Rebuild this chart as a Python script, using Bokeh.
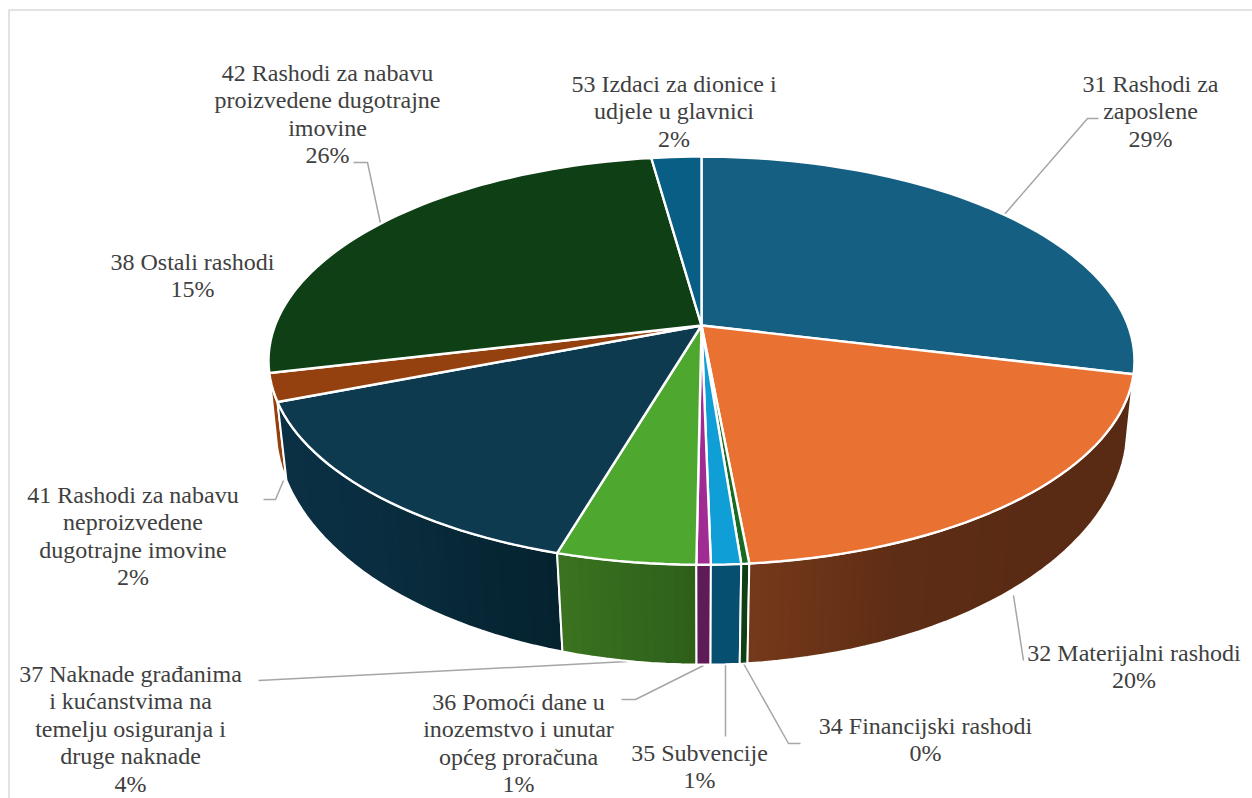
import math
from bokeh.plotting import figure
from bokeh.models import Range1d
from bokeh.core.properties import value
from bokeh.embed import file_html
from bokeh.resources import INLINE

codes = ["31", "32", "34", "35", "36", "37", "38", "41", "42", "53"]
shares = [28.8, 19.72, 0.25, 0.94, 0.45, 4.4, 14.54, 2.2, 26.5, 2.2]
top_colors = ["#156082", "#E97132", "#196B24", "#0F9ED5", "#A02B93", "#4EA72E",
              "#0D3A4F", "#95400F", "#0F3F14", "#085E84"]
side_stops = {
    "32": ["#5A2B14", "#5A2B14", "#5A2B14", "#5E2D15", "#75391A"],
    "34": ["#0F3F14", "#0F3F14"],
    "35": ["#064F70", "#064F70"],
    "36": ["#5F1A58", "#5F1A58"],
    "37": ["#2E5F1A", "#3A7320"],
    "38": ["#05222F", "#0A2E40", "#0B3044"],
    "41": ["#95400F", "#95400F"],
}
side_order = ["41", "38", "37", "36", "35", "34", "32"]

label_lines = [
    ["31 Rashodi za", "zaposlene", "29%"],
    ["32 Materijalni rashodi", "20%"],
    ["34 Financijski rashodi", "0%"],
    ["35 Subvencije", "1%"],
    ["36 Pomoći dane u", "inozemstvo i unutar", "općeg proračuna", "1%"],
    ["37 Naknade građanima", "i kućanstvima na", "temelju osiguranja i", "druge naknade", "4%"],
    ["38 Ostali rashodi", "15%"],
    ["41 Rashodi za nabavu", "neproizvedene", "dugotrajne imovine", "2%"],
    ["42 Rashodi za nabavu", "proizvedene dugotrajne", "imovine", "26%"],
    ["53 Izdaci za dionice i", "udjele u glavnici", "2%"],
]
label_x = [1150, 1133.5, 925, 699, 518, 130, 192, 132.5, 327, 673.5]
label_y = [83, 652, 725, 752, 701, 673, 261, 494, 72, 83]
line_step = 27.6

leaders_x = [[1003, 1087, 1098], [1013, 1023], [743, 788, 800], [725, 725],
             [703, 635, 621], [627, 258], [], [283, 275, 263], [380, 367, 353], []]
leaders_y = [[215, 118, 118], [595, 660], [663, 743, 743], [664, 736],
             [665, 699, 699], [661, 680], [], [480, 499, 499], [223, 162, 162], []]

CX = 701.0
TOP = dict(R=426.5, A=198.0, k=0.1724, c=325.0)
BOT = dict(R=421.0, A=232.0, k=0.1505, c=391.0)


def project(f, g):
    ang = 2 * math.pi * f
    sx, sy = math.sin(ang), math.cos(ang)
    d = 1 + g["k"] * sy
    return CX + g["R"] * sx / d, g["c"] - g["A"] * sy / d


def arc(f0, f1, g, per_pct=2):
    n = max(2, int(abs(f1 - f0) * 100 * per_pct) + 1)
    pts = [project(f0 + (f1 - f0) * i / n, g) for i in range(n + 1)]
    return [a for a, _ in pts], [b for _, b in pts]


def hex_mix(c0, c1, t):
    a = [int(c0[i:i + 2], 16) for i in (1, 3, 5)]
    b = [int(c1[i:i + 2], 16) for i in (1, 3, 5)]
    return "#%02x%02x%02x" % tuple(round(u + (v - u) * t) for u, v in zip(a, b))


def ramp(stops, t):
    pos = t * (len(stops) - 1)
    i = min(int(pos), len(stops) - 2)
    return hex_mix(stops[i], stops[i + 1], pos - i)


total = sum(shares)
bounds = {}
acc = 0.0
for code, s in zip(codes, shares):
    bounds[code] = (acc / total, (acc + s) / total)
    acc += s

p = figure(width=1252, height=798, output_backend="svg", toolbar_location=None,
           x_range=Range1d(0, 1252), y_range=Range1d(798, 0), min_border=0,
           x_axis_type=None, y_axis_type=None, outline_line_color=None)
p.grid.visible = False
p.background_fill_color = "white"

# chart-area frame
p.line([8.5, 8.5, 1252], [798, 9.5, 9.5], line_color="#D9D9D9", line_width=1.5)

# leader lines
p.multi_line([x for x in leaders_x if x], [y for y in leaders_y if y],
             line_color="#A6A6A6", line_width=1.5)

# extruded sides: overlapping strips painted in order so no seams show
for code in side_order:
    f0, f1 = bounds[code]
    stops = side_stops[code]
    n = max(1, int((f1 - f0) * 100 * 3))
    step = (f1 - f0) / n
    xs, ys, cols = [], [], []
    for i in range(n):
        a = f0 + step * i
        b = min(f1, a + 2 * step)
        tx, ty = arc(a, b, TOP)
        bx, by = arc(b, a, BOT)
        xs.append(tx + bx)
        ys.append(ty + by)
        cols.append(ramp(stops, (i + 0.5) / n))
    p.patches(xs, ys, fill_color=cols, line_color=None)
    tx, ty = arc(f0, f1, TOP)
    bx, by = arc(f1, f0, BOT)
    p.patch(tx + bx, ty + by, fill_alpha=0, line_color="white", line_width=2)

# top faces
for code, col in zip(codes, top_colors):
    f0, f1 = bounds[code]
    tx, ty = arc(f0, f1, TOP)
    p.patch([CX] + tx, [TOP["c"]] + ty, fill_color=col, line_color="white", line_width=2.4)

# labels
tx, ty, tt = [], [], []
for lines, lx, ly in zip(label_lines, label_x, label_y):
    for i, s in enumerate(lines):
        tx.append(lx)
        ty.append(ly + i * line_step)
        tt.append(s)
p.text(tx, ty, text=tt, text_font=value("Liberation Serif"), text_font_size=value("24px"),
       text_color="#404040", text_align="center", text_baseline="middle")

open("out.html", "w").write(file_html(p, INLINE))
